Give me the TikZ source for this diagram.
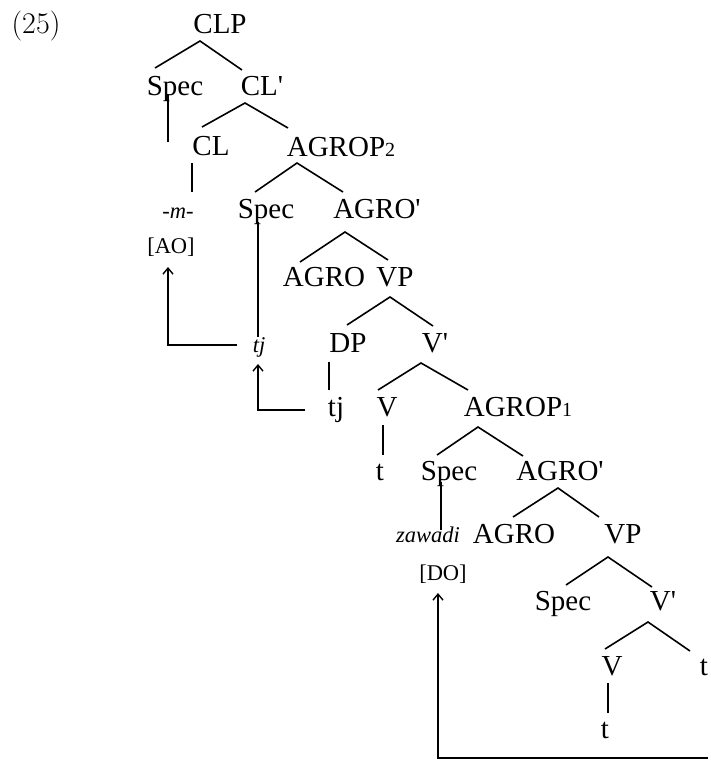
\documentclass[tikz,border=0pt]{standalone}
\usepackage{fontspec}
\newfontfamily\tms{Liberation Serif}
\usetikzlibrary{arrows.meta}

\tikzset{
  lbl/.style={font=\tms\fontsize{29}{34}\selectfont, anchor=base, inner sep=0pt},
  ital/.style={font=\tms\itshape\fontsize{22.5}{27}\selectfont, anchor=base, inner sep=0pt},
  feat/.style={font=\tms\fontsize{22.5}{27}\selectfont, anchor=base, inner sep=0pt},
  br/.style={line width=1.6pt},
  mv/.style={line width=1.4pt, -{Straight Barb[length=6pt,width=10pt,line width=1.4pt]}},
}
\newcommand{\sub}[1]{{\fontsize{20}{20}\selectfont #1}}

\begin{document}
\begin{tikzpicture}[x=1pt,y=-1pt]
            \useasboundingbox (0,0) rectangle (711,764);
            % example number
            \node[font=\fontsize{30}{36}\selectfont, anchor=base, inner sep=0pt] (n25) at (36,33) {(25)};
            % labels, row by row
            \node[lbl] (clp)      at (220,33)  {CLP};
            \node[lbl] (spec1)    at (175,95)  {Spec};
            \node[lbl] (clbar)    at (262,95)  {CL\textquotesingle};
            \node[lbl] (cl)       at (211,155) {CL};
            \node[lbl] (agrop2)   at (341,156) {AGROP\sub{2}};
            \node[ital] (m)       at (178,218) {-m-};
            \node[lbl] (spec2)    at (266,218) {Spec};
            \node[lbl] (agrobar2) at (377,218) {AGRO\textquotesingle};
            \node[feat] (ao)      at (171,253) {[AO]};
            \node[lbl] (agro2)    at (324,286) {AGRO};
            \node[lbl] (vp2)      at (395,286) {VP};
            \node[ital] (tj1)     at (259,352) {tj};
            \node[lbl] (dp)       at (348,352) {DP};
            \node[lbl] (vbar2)    at (435,352) {V\textquotesingle};
            \node[lbl] (tj2)      at (336,416) {tj};
            \node[lbl] (v2)       at (387,416) {V};
            \node[lbl] (agrop1)   at (518,416) {AGROP\sub{1}};
            \node[lbl] (t1)       at (380,480) {t};
            \node[lbl] (spec3)    at (449,480) {Spec};
            \node[lbl] (agrobar1) at (560,480) {AGRO\textquotesingle};
            \node[ital] (zawadi)  at (428,542) {zawadi};
            \node[lbl] (agro1)    at (514,543) {AGRO};
            \node[lbl] (vp1)      at (623,543) {VP};
            \node[feat] (do)      at (443,580) {[DO]};
            \node[lbl] (spec4)    at (563,610) {Spec};
            \node[lbl] (vbar1)    at (663,610) {V\textquotesingle};
            \node[lbl] (v1)       at (612,675) {V};
            \node[lbl] (t2)       at (704,675) {t};
            \node[lbl] (t3)       at (605,738) {t};
            \coordinate (tend) at (708,758);
            % branches
            \draw[br] ([shift={(-20,-27)}]spec1.base) -- ([shift={(-20,8)}]clp.base) -- ([shift={(-20,-25)}]clbar.base);
            \draw[br] ([shift={(-9,-28)}]cl.base) -- ([shift={(-17,8)}]clbar.base) -- ([shift={(-53,-28)}]agrop2.base);
            \draw[br] ([shift={(-11,-26)}]spec2.base) -- ([shift={(-44,7)}]agrop2.base) -- ([shift={(-34,-26)}]agrobar2.base);
            \draw[br] ([shift={(-24,-24)}]agro2.base) -- ([shift={(-32,14)}]agrobar2.base) -- ([shift={(-7,-26)}]vp2.base);
            \draw[br] ([shift={(-1,-27)}]dp.base) -- ([shift={(-5,11)}]vp2.base) -- ([shift={(-2,-26)}]vbar2.base);
            \draw[br] ([shift={(-9,-26)}]v2.base) -- ([shift={(-14,11)}]vbar2.base) -- ([shift={(-50,-26)}]agrop1.base);
            \draw[br] ([shift={(-12,-25)}]spec3.base) -- ([shift={(-40,11)}]agrop1.base) -- ([shift={(-37,-24)}]agrobar1.base);
            \draw[br] ([shift={(-1,-26)}]agro1.base) -- ([shift={(-2,8)}]agrobar1.base) -- ([shift={(-24,-26)}]vp1.base);
            \draw[br] ([shift={(3,-25)}]spec4.base) -- ([shift={(-15,14)}]vp1.base) -- ([shift={(-11,-23)}]vbar1.base);
            \draw[br] ([shift={(-7,-26)}]v1.base) -- ([shift={(-15,12)}]vbar1.base) -- ([shift={(-14,-24)}]t2.base);
            % vertical lines
            \draw[br] ([shift={(-7,0)}]spec1.base) -- ([shift={(-10,-76)}]m.base);
            \draw[br] ([shift={(-19,8)}]cl.base) -- ([shift={(14,-26)}]m.base);
            \draw[br] ([shift={(-8,4)}]spec2.base) -- ([shift={(-1,-15)}]tj1.base);
            \draw[br] ([shift={(-19,10)}]dp.base) -- ([shift={(-7,-26)}]tj2.base);
            \draw[br] ([shift={(-4,9)}]v2.base) -- ([shift={(3,-25)}]t1.base);
            \draw[br] ([shift={(-8,2)}]spec3.base) -- ([shift={(13,-12)}]zawadi.base);
            \draw[br] ([shift={(-4,8)}]v1.base) -- ([shift={(3,-25)}]t3.base);
            % movement arrows
            \draw[mv] ([shift={(-22,-7)}]tj1.base) -| ([shift={(-3,14)}]ao.base);
            \draw[mv] ([shift={(-31,-6)}]tj2.base) -| ([shift={(-1,12)}]tj1.base);
            \draw[mv] (tend) -| ([shift={(-5,13)}]do.base);
        \end{tikzpicture}
\end{document}
